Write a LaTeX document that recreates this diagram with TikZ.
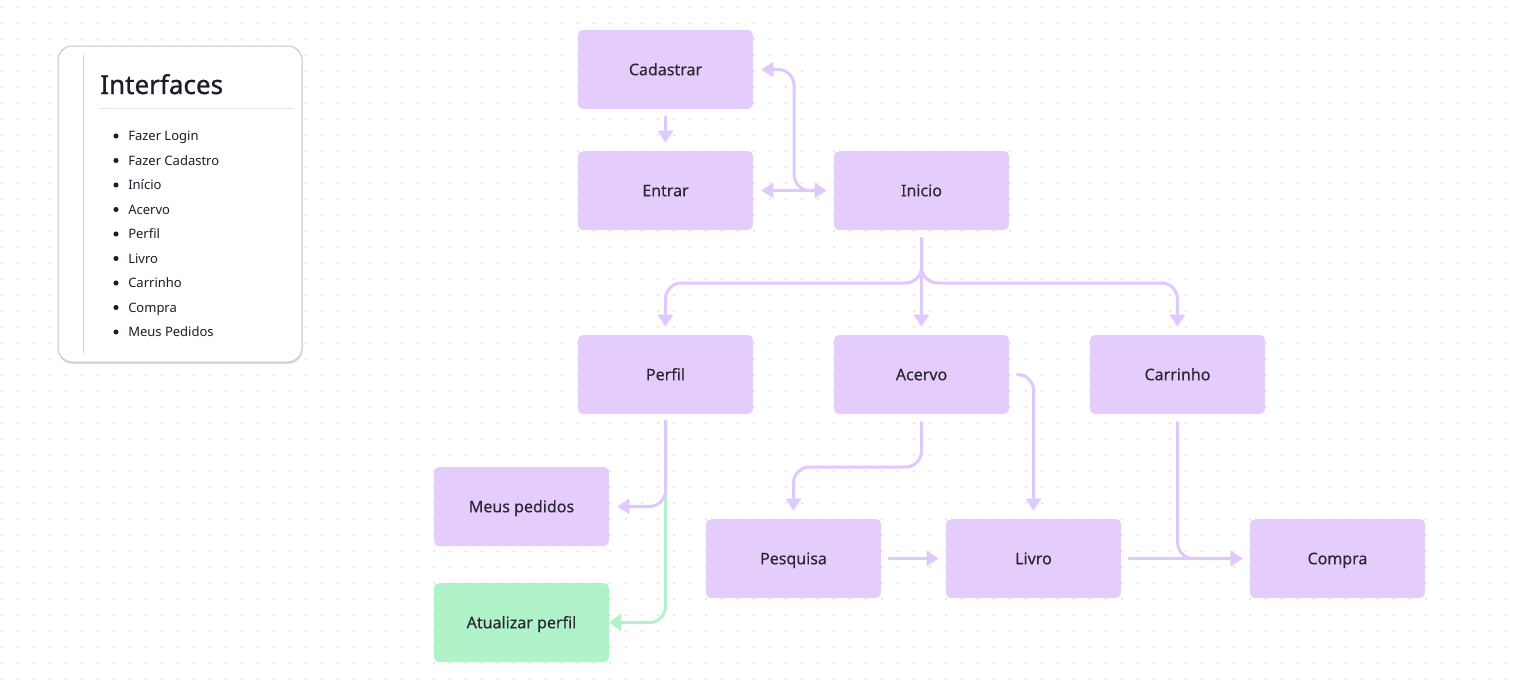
\documentclass[tikz,border=0pt]{standalone}
\usepackage{fontspec}
\setmainfont{Noto Sans}
\newfontfamily\medfont{Noto Sans}[FakeBold=0.35]
\newfontfamily\semifont{Noto Sans}[FakeBold=1]
\usetikzlibrary{arrows.meta,calc}
\definecolor{pfill}{HTML}{E4CCFD}
\definecolor{parrow}{HTML}{E0C8FC}
\definecolor{gfill}{HTML}{B0F3C9}
\definecolor{garrow}{HTML}{B5F0CC}
\definecolor{txt}{HTML}{2B2833}
\definecolor{dotc}{HTML}{DEDEDE}
\definecolor{legb}{HTML}{C4C4C4}
\definecolor{legline}{HTML}{D0D0D0}
\definecolor{legrule}{HTML}{DDE3EA}
\definecolor{legtxt}{HTML}{1E1B2A}
\tikzset{
  box/.style={rectangle, rounded corners=3.75pt, fill=pfill, minimum width=131.25pt,
    minimum height=59.25pt, text=txt, font=\medfont\fontsize{12}{14}\selectfont, inner sep=0pt,
    text height=8.6pt, text depth=0pt},
  gbox/.style={box, fill=gfill},
  conn/.style={draw=parrow, line width=2.25pt, rounded corners=12pt,
    -{Triangle[length=9pt,width=11pt]}},
  gconn/.style={conn, draw=garrow, -{Triangle[length=9pt,width=13pt,color=gfill]}},
  dconn/.style={conn, {Triangle[length=9pt,width=11pt]}-{Triangle[length=9pt,width=11pt]}},
  item/.style={anchor=west, text=legtxt, font=\fontsize{9.75}{12}\selectfont, inner sep=0pt,
    text height=7pt, text depth=0pt},
  bul/.style={fill=legtxt}
}
\begin{document}
\begin{tikzpicture}[x=0.75pt,y=-0.75pt]
\useasboundingbox (0,0) rectangle (1513,690);
% dot grid
\foreach \x in {2,18,...,1514} {
  \foreach \y in {7,23,...,690} {
    \fill[dotc] (\x,\y) circle (0.8pt);
  }
}
% legend
\fill[black!12, rounded corners=10.5pt] (58.5,48) rectangle (302.5,364);
\draw[draw=legb, fill=white, rounded corners=10.5pt, line width=0.75pt] (58,46) rectangle (302,362);
\draw[draw=legline, line width=0.75pt] (83,55) -- (83,353);
\node[anchor=base west, inner sep=0pt, text=legtxt, font=\semifont\fontsize{19.5}{22}\selectfont] (title) at (100,94) {Interfaces};
\draw[draw=legrule, line width=0.75pt] (100,108) -- (293,108);
\foreach \t [count=\i] in {Fazer Login,Fazer Cadastro,Início,Acervo,Perfil,Livro,Carrinho,Compra,Meus Pedidos} {
  \fill[bul] (116,{136+24.5*(\i-1)}) circle (1.9pt);
  \node[item] (li\i) at (128,{136+24.5*(\i-1)}) {\t};
}
% nodes
\node[box] (cad) at (665.5,69.5) {Cadastrar};
\node[box] (entrar) at (665.5,190.5) {Entrar};
\node[box] (inicio) at (921.5,190.5) {Inicio};
\node[box] (perfil) at (665.5,374.5) {Perfil};
\node[box] (acervo) at (921.5,374.5) {Acervo};
\node[box] (carrinho) at (1177.5,374.5) {Carrinho};
\node[box] (meus) at (521.5,506.5) {Meus pedidos};
\node[gbox] (atual) at (521.5,622.5) {Atualizar perfil};
\node[box] (pesquisa) at (793.5,558.5) {Pesquisa};
\node[box] (livro) at (1033.5,558.5) {Livro};
\node[box] (compra) at (1337.5,558.5) {Compra};
% helper coordinates
\coordinate (cv) at (794,130);
\coordinate (j1) at (921.5,283);
\coordinate (j2) at (850,467);
% connectors
\draw[conn] ($(cad.south)+(0,7)$) -- ($(entrar.north)+(0,-8)$);
\draw[dconn] ($(entrar.east)+(8,0)$) -- ($(inicio.west)+(-7,0)$);
\draw[conn] ($(inicio.west)+(-14,0)$) -| (cv) |- ($(cad.east)+(8,0)$);
\draw[conn] ($(inicio.south)+(0,7)$) -- (j1) -| ($(perfil.north)+(0,-8)$);
\draw[conn] ($(inicio.south)+(0,7)$) -- ($(acervo.north)+(0,-8)$);
\draw[conn] ($(inicio.south)+(0,7)$) -- (j1) -| ($(carrinho.north)+(0,-8)$);
\draw[gconn] ($(perfil.south)+(0,6)$) |- (atual.east);
\draw[conn] ($(perfil.south)+(0,6)$) |- ($(meus.east)+(8,0)$);
\draw[conn] ($(acervo.south)+(0,7)$) |- (j2) -| ($(pesquisa.north)+(0,-8)$);
\draw[conn] ($(acervo.east)+(7,0)$) -| ($(livro.north)+(0,-8)$);
\draw[conn] ($(pesquisa.east)+(7,0)$) -- ($(livro.west)+(-7,0)$);
\draw[conn] ($(livro.east)+(7,0)$) -- ($(compra.west)+(-7,0)$);
\draw[conn] ($(carrinho.south)+(0,7)$) |- ($(compra.west)+(-7,0)$);
\end{tikzpicture}
\end{document}
